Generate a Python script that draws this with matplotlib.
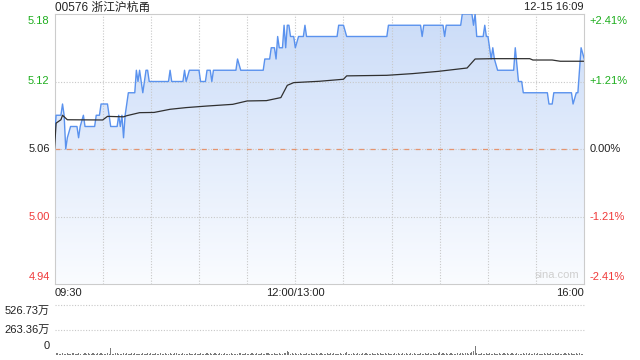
import numpy as np
import matplotlib.pyplot as plt
from matplotlib.colors import LinearSegmentedColormap

plt.rcParams['font.family'] = ['Liberation Sans', 'Noto Sans CJK SC', 'DejaVu Sans']

# 分时价格（分钟序号, 价格）
price_min = [0, 1, 4, 5, 6, 7, 8, 10, 14, 15, 16, 18, 19, 25, 26, 28, 29, 33, 35, 39,
             40, 41, 42, 43, 44, 46, 50, 51, 52, 53, 55, 57, 58, 59, 71, 72, 73, 80, 81, 82,
             84, 90, 91, 94, 95, 97, 98, 99, 113, 114, 116, 130, 131, 134, 135, 137, 138, 139, 140, 142,
             143, 144, 145, 146, 147, 149, 150, 152, 155, 156, 157, 176, 177, 180, 182, 207, 208, 228, 229, 230,
             242, 243, 244, 253, 254, 260, 261, 262, 263, 267, 268, 269, 270, 271, 272, 273, 274, 276, 286, 287,
             289, 291, 292, 307, 308, 310, 311, 322, 323, 325, 326, 328, 330]
price_val = [5.07, 5.09, 5.09, 5.10, 5.09, 5.06, 5.07, 5.08, 5.08, 5.07, 5.08, 5.09, 5.08, 5.08, 5.09, 5.09, 5.10, 5.10, 5.08, 5.08,
             5.09, 5.08, 5.09, 5.07, 5.09, 5.11, 5.11, 5.13, 5.12, 5.13, 5.11, 5.13, 5.13, 5.12, 5.12, 5.13, 5.12, 5.12, 5.13, 5.12,
             5.13, 5.13, 5.12, 5.12, 5.13, 5.13, 5.12, 5.13, 5.13, 5.14, 5.13, 5.13, 5.14, 5.14, 5.15, 5.15, 5.14, 5.16, 5.15, 5.15,
             5.17, 5.15, 5.17, 5.17, 5.16, 5.16, 5.15, 5.16, 5.16, 5.17, 5.16, 5.16, 5.17, 5.17, 5.16, 5.16, 5.17, 5.17, 5.16, 5.17,
             5.17, 5.16, 5.17, 5.17, 5.18, 5.18, 5.17, 5.18, 5.16, 5.16, 5.17, 5.16, 5.16, 5.15, 5.14, 5.15, 5.14, 5.13, 5.13, 5.15,
             5.12, 5.12, 5.11, 5.11, 5.10, 5.10, 5.11, 5.11, 5.10, 5.11, 5.11, 5.15, 5.14]

# 均价线
avg_min = [0, 1, 4, 5, 8, 30, 33, 43, 45, 53, 62, 72, 82, 95, 111, 120, 132, 141, 145, 149,
           165, 180, 182, 207, 223, 239, 257, 262, 273, 296, 298, 310, 315, 330]
avg_val = [5.06, 5.083, 5.086, 5.09, 5.086, 5.0858, 5.089, 5.0886, 5.0896, 5.0923, 5.0925, 5.0953, 5.0968, 5.0982,
           5.0997, 5.1027, 5.103, 5.1057, 5.1166, 5.119, 5.1202, 5.122, 5.125, 5.1255, 5.127, 5.129, 5.132, 5.14,
           5.1403, 5.1403, 5.1391, 5.1391, 5.138, 5.138]

# 成交量（万股）
volume = [30, 18, 22, 9, 14, 20, 6, 12, 25, 10, 8, 16, 21, 7, 13, 19, 11, 5, 15, 24, 9, 17, 12, 6, 20, 14, 8, 18, 11, 23,
          10, 15, 7, 19, 13, 70, 12, 8, 21, 16, 9, 14, 6, 18, 11, 20, 7, 13, 17, 10, 22, 8, 15, 12, 6, 19, 14, 9, 16, 11,
          20, 7, 13, 18, 10, 15, 22, 8, 12, 17, 6, 14, 19, 11, 9, 16, 21, 7, 13, 10, 18, 12, 8, 15, 20, 6, 14, 11, 17, 9,
          13, 19, 8, 15, 11, 22, 7, 16, 12, 9, 18, 14, 6, 20, 10, 13, 17, 8, 15, 11, 21, 9, 14, 12, 7, 19, 16, 10, 13, 18,
          8, 15, 11, 20, 14, 9, 17, 12, 6, 19, 13, 10, 22, 16, 8, 14, 11, 18, 7, 15, 20, 12, 9, 17, 25, 45, 30, 14, 19, 11,
          16, 9, 13, 20, 8, 15, 11, 18, 7, 14, 19, 10, 12, 17, 6, 15, 21, 9, 13, 11, 18, 8, 16, 12, 20, 7, 14, 10, 17, 13,
          9, 19, 30, 12, 15, 8, 18, 11, 14, 20, 7, 13, 16, 10, 22, 9, 15, 12, 18, 6, 14, 17, 11, 19, 8, 13, 21, 10, 16, 12,
          15, 8, 18, 11, 20, 13, 7, 16, 12, 19, 9, 14, 22, 10, 17, 6, 15, 12, 18, 9, 13, 20, 11, 16, 8, 14, 19, 12, 10, 17,
          28, 12, 16, 9, 19, 14, 11, 20, 8, 15, 13, 18, 10, 22, 16, 12, 19, 25, 14, 20, 30, 40, 98, 24, 15, 11, 18, 13, 9, 16,
          12, 19, 8, 15, 21, 11, 14, 17, 9, 13, 20, 10, 16, 12, 7, 18, 14, 11, 22, 9, 15, 13, 19, 8, 16, 12, 20, 10, 14, 17,
          11, 18, 9, 15, 13, 20, 8, 16, 12, 19, 10, 14, 22, 11, 17, 9, 15, 13, 18, 12, 20, 10, 16, 14, 8, 19, 13, 17, 11, 15,
          526.73]

prev_close = 5.06
price_ticks = [5.18, 5.12, 5.06, 5.00, 4.94]
pct_labels = ['+2.41%', '+1.21%', '0.00%', '-1.21%', '-2.41%']
vol_ticks = [526.73, 263.36, 0]
vol_labels = ['526.73万', '263.36万', '0']
x_labels = ['09:30', '12:00/13:00', '16:00']
x_label_pos = [0, 150, 330]

GREEN = '#1fae1f'
RED = '#f03a3a'
GRID = '#c8c8c8'

fig = plt.figure(figsize=(6.4, 3.6), dpi=100)
ax = fig.add_axes([54.5 / 640, 1 - 284 / 360, 529.8 / 640, 270 / 360])
ax.set_xlim(0, 330)
ax.set_ylim(4.94, 5.18)

# 渐变填充
cmap = LinearSegmentedColormap.from_list('fill', ['#fafcff', '#cbdcf8'])
grad = np.linspace(0, 1, 256).reshape(-1, 1)
img = ax.imshow(grad, extent=[0, 330, 4.94, 5.18], origin='lower', aspect='auto', cmap=cmap, zorder=1)
poly = ax.fill_between(price_min, price_val, 4.94, color='none', lw=0)
img.set_clip_path(poly.get_paths()[0], transform=ax.transData)

for x in range(30, 330, 30):
    ax.axvline(x, color=GRID, lw=0.8, ls=(0, (1, 1.5)), zorder=2)
for y in [5.12, 5.00]:
    ax.axhline(y, color=GRID, lw=0.8, ls=(0, (1, 1.5)), zorder=2)
ax.axhline(prev_close, color=GRID, lw=0.8, ls=(0, (1, 1.5)), zorder=2)
ax.axhline(prev_close, color='#e59470', lw=0.9, ls=(0, (4, 5)), zorder=2)

ax.plot(price_min, price_val, color='#5a92ee', lw=1.0, zorder=4)
ax.plot(avg_min, avg_val, color='#303030', lw=0.9, zorder=5)

for s in ax.spines.values():
    s.set_color('#cccccc')
ax.set_xticks([])
ax.set_yticks([])

# 左右刻度标签
for i, (p, lab) in enumerate(zip(price_ticks, pct_labels)):
    col = GREEN if p > prev_close else (RED if p < prev_close else '#222222')
    va = 'top' if i == 0 else ('bottom' if i == len(price_ticks) - 1 else 'center')
    off = -1.2 if i == 0 else (1.2 if i == len(price_ticks) - 1 else 0)
    ax.annotate(f'{p:.2f}', (0, p), xytext=(-3.5, off), textcoords='offset points',
                ha='right', va=va, color=col, fontsize=8)
    ax.annotate(lab, (330, p), xytext=(4, off), textcoords='offset points',
                ha='left', va=va, color=col, fontsize=8)

for lab, xp in zip(x_labels, x_label_pos):
    ha = 'left' if xp == 0 else ('right' if xp == 330 else 'center')
    ax.annotate(lab, (xp, 4.94), xytext=(0, -3), textcoords='offset points',
                ha=ha, va='top', color='#222222', fontsize=8)

ax.text(0.99, 0.015, 'sina.com', transform=ax.transAxes, ha='right', va='bottom',
        color='#cfcfcf', fontsize=8)

fig.text(55 / 640, 1 - 7.5 / 360, '00576 浙江沪杭甬', ha='left', va='center', fontsize=8.5, color='#222222')
fig.text(584 / 640, 1 - 7.5 / 360, '12-15 16:09', ha='right', va='center', fontsize=8, color='#222222')

# 成交量
vax = fig.add_axes([54.5 / 640, 1 - 355 / 360, 529.8 / 640, 50 / 360])
vax.set_xlim(0, 330)
vax.set_ylim(0, 526.73)
vax.bar(np.arange(len(volume)), volume, width=0.7, color='#7a7a7a', zorder=3)
for y in [526.73, 263.36]:
    vax.axhline(y, color=GRID, lw=0.8, ls=(0, (1, 1.5)), zorder=1, clip_on=False)
for s in vax.spines.values():
    s.set_visible(False)
vax.set_xticks([])
vax.set_yticks([])
for i, (v, lab) in enumerate(zip(vol_ticks, vol_labels)):
    va = 'top' if i == 0 else ('bottom' if i == len(vol_ticks) - 1 else 'center')
    off = -0.5 if i == 0 else (3 if i == len(vol_ticks) - 1 else 0)
    vax.annotate(lab, (0, v), xytext=(-3.5, off), textcoords='offset points',
                 ha='right', va=va, color='#222222', fontsize=8)

fig.savefig('out.png', dpi=100)
